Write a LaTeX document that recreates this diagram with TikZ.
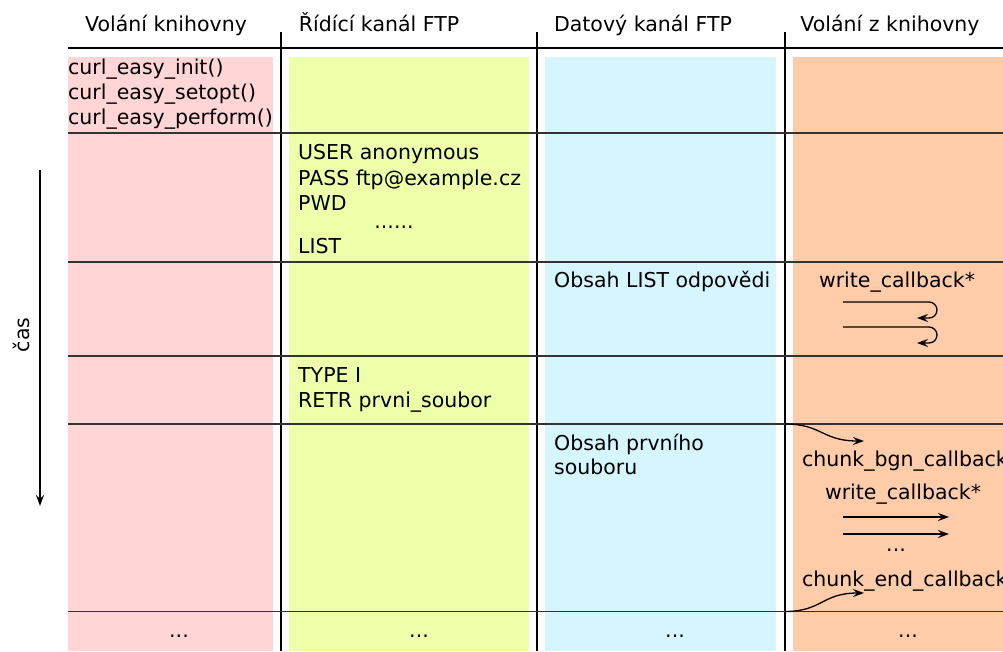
\documentclass[tikz,border=0pt]{standalone}
\usepackage{fontspec}
\setmainfont{DejaVu Sans}
\usetikzlibrary{arrows.meta}
\usetikzlibrary{positioning}

\definecolor{libcall}{HTML}{FFD5D5}
\definecolor{ctrlch}{HTML}{EEFFAA}
\definecolor{datach}{HTML}{D5F6FF}
\definecolor{callback}{HTML}{FFCCAA}

\begin{document}
\begin{tikzpicture}[x=1pt,y=-1pt,
  txt/.style={anchor=base west, inner sep=0pt, font=\fontsize{20.5}{24}\selectfont},
  ctxt/.style={txt, anchor=base},
  sep/.style={draw=black!80, line width=1.1pt},
  colline/.style={draw=black, line width=1.6pt},
  tip/.style={-{Stealth[length=11pt,width=8pt,inset=4pt]}, line width=1.3pt}]

\useasboundingbox (0,0) rectangle (1003,651);

% column backgrounds
\fill[libcall] (68,57) rectangle (273,651);
\fill[ctrlch] (289,57) rectangle (529,651);
\fill[datach] (545,57) rectangle (776,651);
\fill[callback] (793,57) rectangle (1010,651);

% column headers
\node[ctxt] (hlib) at (166,31) {Volání knihovny};
\node[ctxt] (hctrl) at (379,31) {Řídící kanál FTP};
\node[ctxt] (hdata) at (643,31) {Datový kanál FTP};
\node[ctxt] (hcb) at (890,31) {Volání z knihovny};

% header line and column lines
\draw[colline] (68,48) -- (1003,48);
\draw[colline] (281,32) -- (281,651);
\draw[colline] (537,32) -- (537,651);
\draw[colline] (785,32) -- (785,651);

% time steps
\draw[sep] (68,133) -- (1003,133);
\draw[sep] (68,262) -- (1003,262);
\draw[sep] (68,356) -- (1003,356);
\draw[sep] (68,424) -- (1003,424);
\draw[sep] (68,611.5) -- (1003,611.5);

% library calls
\node[txt] (init) at (68,74) {curl\_easy\_init()};
\node[txt] (setopt) at (68,99) {curl\_easy\_setopt()};
\node[txt] (perform) at (68,124) {curl\_easy\_perform()};

% control channel
\node[txt] (user) at (298,159) {USER anonymous};
\node[txt] (pass) at (298,185) {PASS ftp@example.cz};
\node[txt] (pwd) at (298,210) {PWD};
\node[ctxt] (cdots) at (394,228) {......};
\node[txt] (list) at (298,253) {LIST};
\node[txt] (type) at (298,382) {TYPE I};
\node[txt] (retr) at (298,407) {RETR prvni\_soubor};

% data channel
\node[txt] (listdata) at (554,287) {Obsah LIST odpovědi};
\node[txt] (filedata) at (554,450) {Obsah prvního};
\node[txt] (filedata2) at (554,474) {souboru};

% callbacks
\node[ctxt] (wcb1) at (897,287) {write\_callback*};
\node[txt] (bgn) at (802,466) {chunk\_bgn\_callback};
\node[ctxt] (wcb2) at (903,499) {write\_callback*};
\node[ctxt] (wdots) at (896,551) {...};
\node[txt] (end) at (802,586) {chunk\_end\_callback};

% bottom
\node[ctxt] (more1) at (179,637) {...};
\node[ctxt] (more2) at (419,637) {...};
\node[ctxt] (more3) at (675,637) {...};
\node[ctxt] (more4) at (908,637) {...};

% write_callback loops
\coordinate (ws1) at (843,302);
\coordinate (we1) at (917,318);
\coordinate (ws2) at (843,327);
\coordinate (we2) at (917,343);
\draw[tip] (ws1) -- (929,302) arc[start angle=-90, end angle=90, radius=8] -- (we1);
\draw[tip] (ws2) -- (929,327) arc[start angle=-90, end angle=90, radius=8] -- (we2);

% write_callback for chunks
\coordinate (ws3) at (843,517);
\coordinate (we3) at (949,517);
\coordinate (ws4) at (843,534);
\coordinate (we4) at (949,534);
\draw[tip] (ws3) -- (we3);
\draw[tip] (ws4) -- (we4);

% chunk begin and end
\coordinate (bs) at (785,424);
\coordinate (be) at (864,441);
\coordinate (es) at (785,611.5);
\coordinate (ee) at (864,593);
\draw[tip] (bs) .. controls (822,424) and (822,441) .. (be);
\draw[tip] (es) .. controls (822,611.5) and (822,593) .. (ee);

% time axis
\coordinate (ts) at (40,170);
\coordinate (te) at (40,506);
\draw[tip] (ts) -- (te);
\node[ctxt, rotate=90, anchor=center] (time) at (21,335) {čas};

\end{tikzpicture}
\end{document}
